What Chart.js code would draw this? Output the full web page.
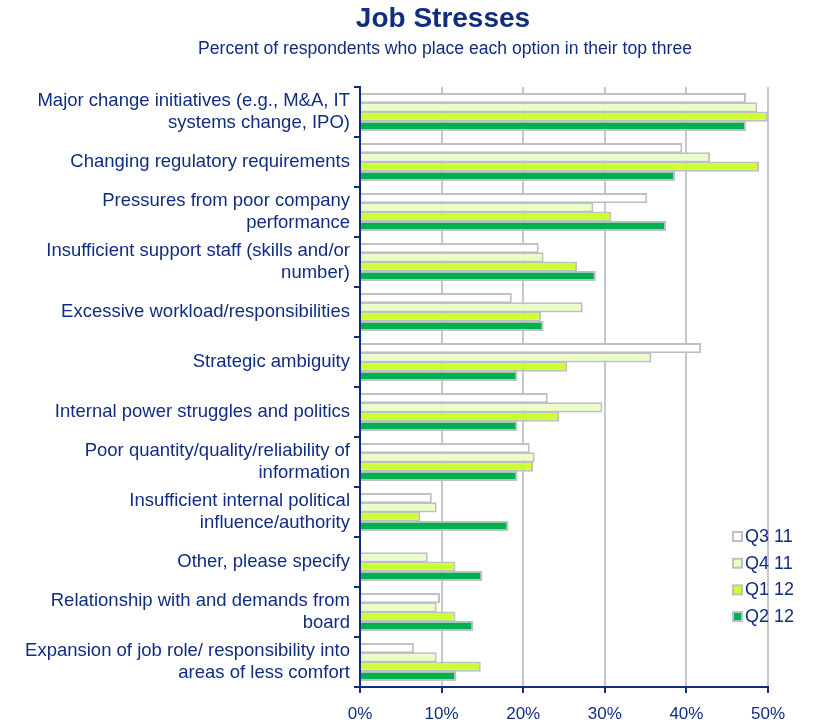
<!DOCTYPE html>
<html>
<head>
<meta charset="utf-8">
<title>Job Stresses</title>
<script src="https://cdn.jsdelivr.net/npm/chart.js@4"></script>
<style>
  html, body { margin: 0; padding: 0; background: #fff; }
  #wrap { width: 814px; height: 725px; }
</style>
</head>
<body>
<div id="wrap"><canvas id="stressChart" width="814" height="725"></canvas></div>
<script>
const categories = [
    ['Major change initiatives (e.g., M&A, IT', 'systems change, IPO)'],
    'Changing regulatory requirements',
    ['Pressures from poor company', 'performance'],
    ['Insufficient support staff (skills and/or', 'number)'],
    'Excessive workload/responsibilities',
    'Strategic ambiguity',
    'Internal power struggles and politics',
    ['Poor quantity/quality/reliability of', 'information'],
    ['Insufficient internal political', 'influence/authority'],
    'Other, please specify',
    ['Relationship with and demands from', 'board'],
    ['Expansion of job role/ responsibility into', 'areas of less comfort']
];

const seriesNames = ['Q3 11', 'Q4 11', 'Q1 12', 'Q2 12'];
const q3_11 = [47.3, 39.5, 35.2, 21.9, 18.6, 41.8, 23.0, 20.8, 8.8, null, 9.8, 6.6];
const q4_11 = [48.7, 42.9, 28.6, 22.5, 27.3, 35.7, 29.7, 21.4, 9.4, 8.3, 9.4, 9.4];
const q1_12 = [50.0, 48.9, 30.8, 26.6, 22.2, 25.4, 24.4, 21.2, 7.4, 11.7, 11.7, 14.8];
const q2_12 = [47.3, 38.6, 37.5, 28.9, 22.5, 19.3, 19.3, 19.3, 18.2, 15.0, 13.9, 11.8];
const xTicks = [0, 10, 20, 30, 40, 50];

const navy = '#112d82';
const fontFamily = '"Liberation Sans", Arial, sans-serif';
const fills = ['#ffffff', '#eaffc8', '#ccff33', '#00b050'];

// title, subtitle and the small legend inside the plot
const decorations = {
    id: 'decorations',
    afterDraw(chart) {
        const ctx = chart.ctx;
        ctx.save();
        ctx.fillStyle = navy;
        ctx.textAlign = 'center';
        ctx.textBaseline = 'middle';
        ctx.font = 'bold 28px ' + fontFamily;
        ctx.fillText('Job Stresses', 443, 19);
        ctx.font = '17.6px ' + fontFamily;
        ctx.fillText('Percent of respondents who place each option in their top three', 445, 49);

        ctx.textAlign = 'left';
        ctx.font = '18px ' + fontFamily;
        chart.data.datasets.forEach((ds, i) => {
            const y = 537 + i * 26.7;
            ctx.fillStyle = ds.backgroundColor;
            ctx.fillRect(733, y - 5, 9, 9);
            ctx.strokeStyle = '#c0c0c0';
            ctx.lineWidth = 2;
            ctx.strokeRect(733, y - 5, 9, 9);
            ctx.fillStyle = navy;
            ctx.fillText(ds.label, 745, y);
        });
        ctx.restore();
    }
};

const seriesValues = [q3_11, q4_11, q1_12, q2_12];

new Chart(document.getElementById('stressChart'), {
    type: 'bar',
    data: {
        labels: categories,
        datasets: seriesNames.map((name, i) => ({
            label: name,
            data: seriesValues[i],
            backgroundColor: fills[i],
            borderColor: '#c0c0c0',
            borderWidth: 2,
            barPercentage: 1.1,
            categoryPercentage: 0.74
        }))
    },
    options: {
        indexAxis: 'y',
        responsive: false,
        animation: false,
        layout: { padding: { top: 87, right: 46, left: 0, bottom: 0 } },
        plugins: {
            legend: { display: false },
            tooltip: { enabled: false }
        },
        scales: {
            x: {
                min: 0,
                max: 50,
                afterBuildTicks: scale => {
                    scale.ticks = xTicks.map(v => ({ value: v }));
                },
                afterFit: scale => { scale.height = 38; },
                grid: {
                    color: '#c8c8c8',
                    lineWidth: 2,
                    tickColor: navy,
                    tickLength: 6,
                    tickWidth: 2
                },
                border: { color: navy, width: 2 },
                ticks: {
                    color: navy,
                    padding: 11,
                    font: { family: fontFamily, size: 17 },
                    callback: v => v + '%'
                }
            },
            y: {
                afterFit: scale => { scale.width = 360; },
                grid: {
                    drawOnChartArea: false,
                    color: navy,
                    tickLength: 6,
                    lineWidth: 2
                },
                border: { color: navy, width: 2 },
                ticks: {
                    color: navy,
                    padding: 4,
                    font: { family: fontFamily, size: 18.5, lineHeight: 1.22 }
                }
            }
        }
    },
    plugins: [decorations]
});
</script>
</body>
</html>
